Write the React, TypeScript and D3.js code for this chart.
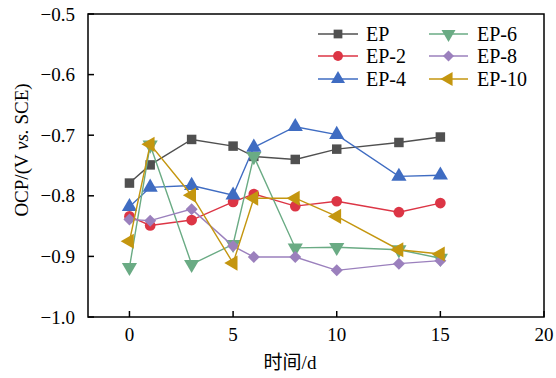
import React from "react";
import * as d3 from "d3";

const days = [0, 1, 3, 5, 6, 8, 10, 13, 15];
const ep = [-0.779, -0.749, -0.707, -0.718, -0.735, -0.740, -0.723, -0.712, -0.703];
const ep2 = [-0.834, -0.849, -0.840, -0.810, -0.797, -0.817, -0.809, -0.827, -0.812];
const ep4 = [-0.818, -0.786, -0.783, -0.799, -0.720, -0.686, -0.699, -0.768, -0.766];
const ep6 = [-0.918, -0.716, -0.913, -0.880, -0.735, -0.886, -0.885, -0.889, -0.903];
const ep8 = [-0.839, -0.841, -0.822, -0.883, -0.901, -0.901, -0.923, -0.912, -0.907];
const ep10 = [-0.875, -0.715, -0.799, -0.911, -0.804, -0.804, -0.834, -0.889, -0.896];

const seriesNames = ["EP", "EP-2", "EP-4", "EP-6", "EP-8", "EP-10"];
const seriesValues = [ep, ep2, ep4, ep6, ep8, ep10];
const seriesColors = ["#505050", "#dc3545", "#3f6cc2", "#6aab84", "#9b80bd", "#c4960f"];
const seriesSymbols = [
  d3.symbolSquare,
  d3.symbolCircle,
  d3.symbolTriangle,
  d3.symbolTriangle,
  d3.symbolSquare,
  d3.symbolTriangle,
];
const symbolRotation = [0, 0, 0, 180, 45, -90];
const symbolSize = [90, 90, 100, 100, 72, 100];

const xTicks = [0, 5, 10, 15, 20];
const yTicks = [-0.5, -0.6, -0.7, -0.8, -0.9, -1.0];

const left = 88;
const right = 544;
const top = 14;
const bottom = 317;

export default function App() {
  const x = d3.scaleLinear().domain([-2, 20]).range([left, right]);
  const y = d3.scaleLinear().domain([-1.0, -0.5]).range([bottom, top]);
  const line = d3
    .line<number>()
    .x((_, i) => x(days[i]))
    .y((v) => y(v));

  const fmt = (v: number) => (v < 0 ? "\u2212" + Math.abs(v).toFixed(1) : v.toFixed(1));
  const font = "'Liberation Serif', 'Times New Roman', serif";

  const marker = (k: number, cx: number, cy: number, key: string, scale = 1) => {
    const p = d3.symbol().type(seriesSymbols[k]).size(symbolSize[k] * scale)();
    return (
      <path
        key={key}
        d={p || ""}
        transform={`translate(${cx},${cy}) rotate(${symbolRotation[k]})`}
        fill={seriesColors[k]}
      />
    );
  };

  const legendRows = [34, 56, 79];
  const legendCols = [{ x0: 318, x1: 358, tx: 366 }, { x0: 429, x1: 468, tx: 477 }];

  return (
    <svg width={556} height={378} style={{ position: "absolute", left: 0, top: 0 }} fontFamily={font}>
      <rect x={0} y={0} width={556} height={378} fill="#fff" />
      {seriesValues.map((vals, k) => (
        <g key={seriesNames[k]}>
          <path d={line(vals) || ""} fill="none" stroke={seriesColors[k]} strokeWidth={1.4} />
          {vals.map((v, i) => marker(k, x(days[i]), y(v), `${k}-${i}`))}
        </g>
      ))}
      <rect x={left} y={top} width={right - left} height={bottom - top} fill="none" stroke="#000" strokeWidth={1.5} />
      {xTicks.map((t) => (
        <g key={"x" + t}>
          <line x1={x(t)} x2={x(t)} y1={bottom} y2={bottom - 6} stroke="#000" strokeWidth={1.5} />
          <text x={x(t)} y={341} textAnchor="middle" fontSize={19}>
            {t}
          </text>
        </g>
      ))}
      {yTicks.map((t) => (
        <g key={"y" + t}>
          <line x1={left} x2={left + 6} y1={y(t)} y2={y(t)} stroke="#000" strokeWidth={1.5} />
          <text x={75} y={y(t) + 6.5} textAnchor="end" fontSize={19}>
            {fmt(t)}
          </text>
        </g>
      ))}
      <text x={290} y={369} textAnchor="middle" fontSize={19}>
        <tspan fontFamily="'Noto Sans CJK SC', sans-serif">时间</tspan>
        <tspan>/d</tspan>
      </text>
      <text transform="translate(28,150) rotate(-90)" textAnchor="middle" fontSize={19}>
        OCP/(V <tspan fontStyle="italic">vs.</tspan> SCE)
      </text>
      {seriesNames.map((name, k) => {
        const col = legendCols[Math.floor(k / 3)];
        const ry = legendRows[k % 3];
        return (
          <g key={"lg" + name}>
            <line x1={col.x0} x2={col.x1} y1={ry} y2={ry} stroke={seriesColors[k]} strokeWidth={1.4} />
            {marker(k, (col.x0 + col.x1) / 2, ry, "lm" + k, 0.85)}
            <text x={col.tx} y={ry + 7} fontSize={20}>
              {name}
            </text>
          </g>
        );
      })}
    </svg>
  );
}
